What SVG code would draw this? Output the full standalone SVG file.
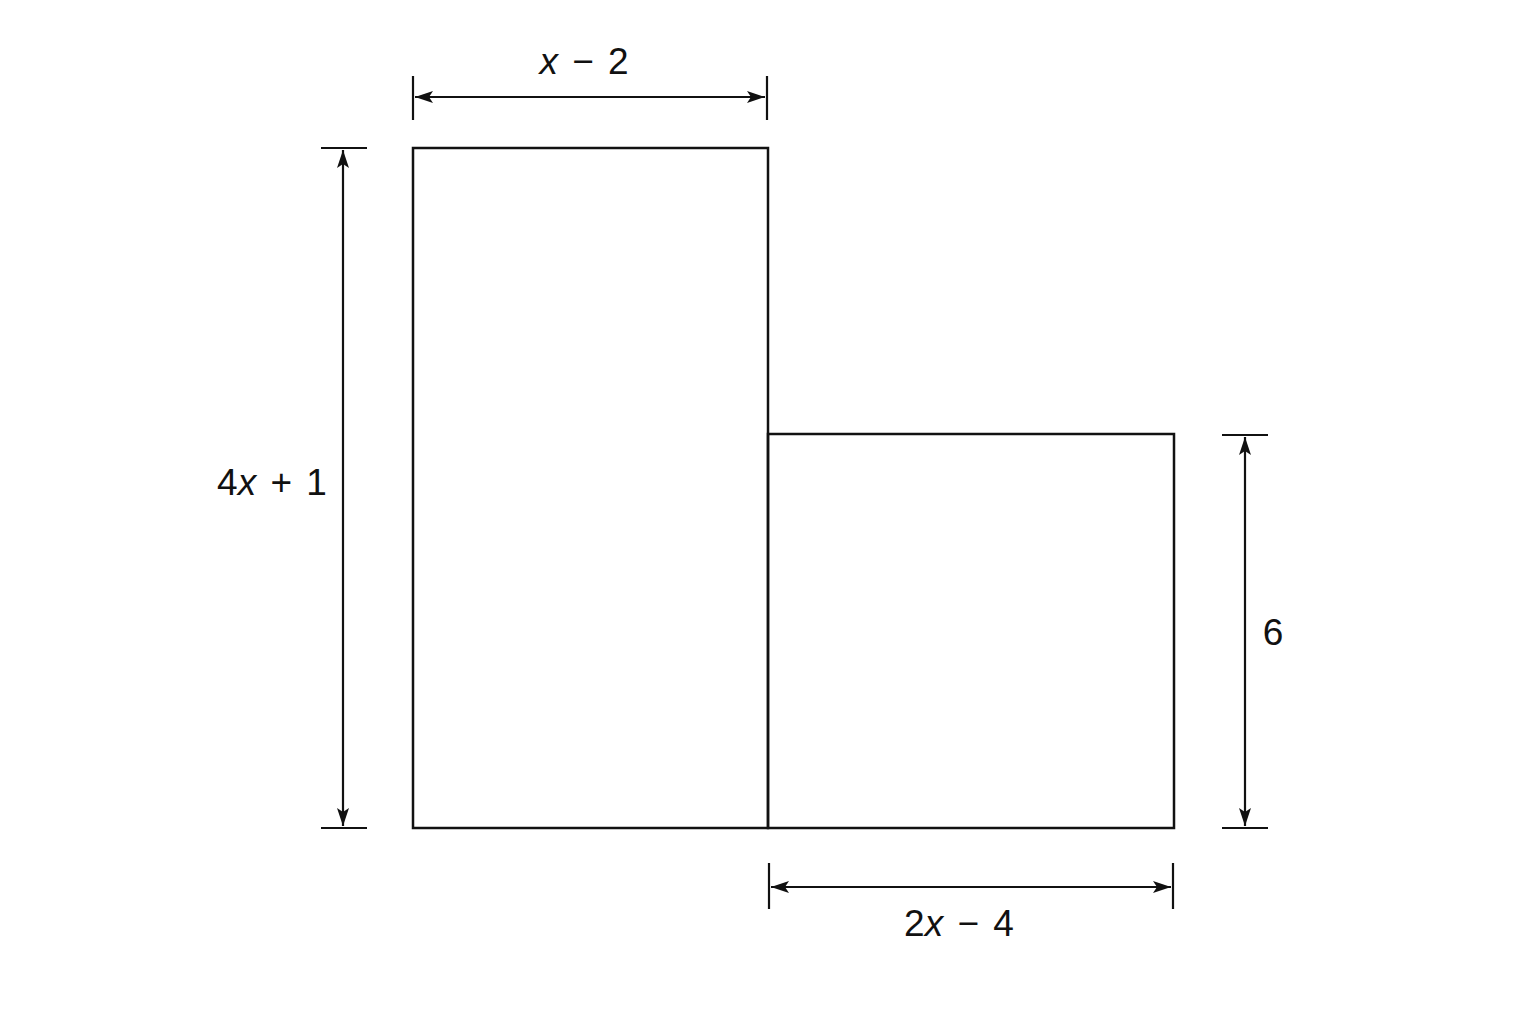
<svg xmlns="http://www.w3.org/2000/svg" width="1536" height="1024" viewBox="0 0 1536 1024">
<style>
.shape{fill:none;stroke:#111;stroke-width:2.5}
.dim{fill:none;stroke:#111;stroke-width:2.2}
.lbl{font-family:"Liberation Sans","DejaVu Sans",sans-serif;font-size:37px;fill:#111;word-spacing:4px}
.it{font-style:italic}
</style>
<defs>
<marker id="ah" viewBox="0 0 18 12" refX="18" refY="6" markerWidth="18" markerHeight="12" markerUnits="userSpaceOnUse" orient="auto-start-reverse">
<path d="M0,0 L18,6 L0,12 L4,6 Z" fill="#111"/>
</marker>
</defs>
<rect width="1536" height="1024" fill="#fff"/>
<g id="rect-left"><rect class="shape" x="413" y="148" width="355" height="680"/></g>
<g id="rect-right"><rect class="shape" x="768" y="434" width="406" height="394"/></g>
<g id="connectors">
<line class="dim" x1="413" y1="76" x2="413" y2="120"/>
<line class="dim" x1="767" y1="76" x2="767" y2="120"/>
<line class="dim" x1="415" y1="97" x2="765" y2="97" marker-start="url(#ah)" marker-end="url(#ah)"/>
<line class="dim" x1="321" y1="148" x2="367" y2="148"/>
<line class="dim" x1="321" y1="828" x2="367" y2="828"/>
<line class="dim" x1="343" y1="150" x2="343" y2="826" marker-start="url(#ah)" marker-end="url(#ah)"/>
<line class="dim" x1="1222" y1="435" x2="1268" y2="435"/>
<line class="dim" x1="1222" y1="828" x2="1268" y2="828"/>
<line class="dim" x1="1245" y1="437" x2="1245" y2="826" marker-start="url(#ah)" marker-end="url(#ah)"/>
<line class="dim" x1="769" y1="863" x2="769" y2="909"/>
<line class="dim" x1="1173" y1="863" x2="1173" y2="909"/>
<line class="dim" x1="771" y1="887" x2="1171" y2="887" marker-start="url(#ah)" marker-end="url(#ah)"/>
</g>
<g id="labels">
<text class="lbl" x="584" y="74" text-anchor="middle"><tspan class="it">x</tspan> − 2</text>
<text class="lbl" x="272" y="495" text-anchor="middle">4<tspan class="it">x</tspan> + 1</text>
<text class="lbl" x="1273" y="645" text-anchor="middle">6</text>
<text class="lbl" x="959" y="936" text-anchor="middle">2<tspan class="it">x</tspan> − 4</text>
</g>
</svg>
